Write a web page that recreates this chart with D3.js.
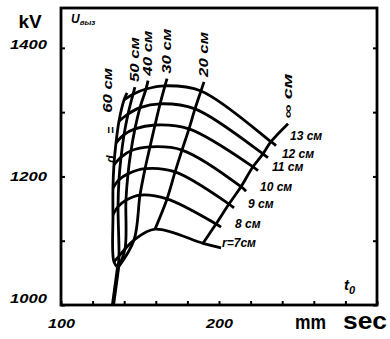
<!DOCTYPE html>
<html>
<script src="https://d3js.org/d3.v7.min.js"></script>
<style>
    body { margin: 0; background: #fff; }
    svg { font-family: 'Liberation Sans', Arial, sans-serif; }
    .lbl { font-weight: bold; font-style: italic; }
</style>
<body>
<svg width="390" height="339"></svg>
<script>
    // arcs of constant radius r (cm)
    const radii = [7, 8, 9, 10, 11, 12, 13];
    const radiusLabels = ['r=7см', '8 см', '9 см', '10 см', '11 см', '12 см', '13 см'];
    // steep curves of constant distance, left to right
    const distLabels = ['60 см', '50 см', '40 см', '30 см', '20 см', '∞ см'];

    // crossing points: rows = radius 7..13, columns = distance 60,50,40,30,20,inf
    const tGrid = [
        [133.5, 136.7, 140.5, 146.2, 159.5, 189.9],
        [132.9, 136.1, 141.1, 150.0, 167.1, 198.1],
        [132.9, 136.7, 142.4, 153.2, 172.2, 206.3],
        [133.5, 138.0, 144.3, 156.3, 176.6, 213.9],
        [134.8, 139.9, 146.8, 159.5, 181.0, 221.5],
        [136.7, 142.4, 150.0, 162.7, 184.8, 227.8],
        [139.9, 145.6, 153.8, 165.8, 188.6, 232.9]
    ];
    const uGrid = [
        [1067, 1076, 1087, 1101, 1118, 1096],
        [1140, 1153, 1163, 1171, 1165, 1126],
        [1182, 1195, 1204, 1212, 1207, 1157],
        [1218, 1230, 1240, 1246, 1241, 1184],
        [1252, 1265, 1274, 1280, 1274, 1215],
        [1286, 1297, 1307, 1313, 1305, 1235],
        [1319, 1328, 1336, 1341, 1333, 1254]
    ];
    // short tails of the arcs past the right curve
    const tailT = [201.3, 201.3, 209.5, 217.1, 224.7, 231.0, 236.1];
    const tailU = [1089, 1121, 1151, 1177, 1209, 1229, 1248];
    // upper ends of the distance curves
    const topT = [141.8, 146.8, 155.1, 167.1, 190.5, 243.7];
    const topU = [1330, 1339, 1349, 1352, 1347, 1282];
    // where the curves gather, and the stem down to the axis
    const stemT = [136.1, 132.9];
    const stemU = [1058, 1000];

    const xTicks = [100, 120, 140, 160, 180, 200, 220, 240, 260, 280, 300];
    const xLabels = [100, 200];
    const yTicks = [1000, 1100, 1200, 1300, 1400];
    const yLabels = [1000, 1200, 1400];

    const svg = d3.select('svg');
    const x = d3.scaleLinear().domain([100, 300]).range([61, 377]);
    const y = d3.scaleLinear().domain([1000, 1462]).range([305, 8]);

    const line = d3.line()
        .x(d => x(d[0]))
        .y(d => y(d[1]))
        .curve(d3.curveCatmullRom.alpha(0.5));

    // constant-r arcs
    radii.forEach((r, i) => {
        const pts = tGrid[i].map((t, j) => [t, uGrid[i][j]]);
        pts.push([tailT[i], tailU[i]]);
        svg.append('path')
            .attr('d', line(pts))
            .attr('fill', 'none')
            .attr('stroke', '#000')
            .attr('stroke-width', 2.8);
        svg.append('text')
            .attr('class', 'lbl')
            .attr('x', x(tGrid[i][5]) + 19)
            .attr('y', y(uGrid[i][5]) + (r == 13 ? -2 : 4))
            .attr('font-size', 12)
            .text(radiusLabels[i]);
    });

    // constant-distance curves
    distLabels.forEach((lab, j) => {
        const pts = [[topT[j], topU[j]]];
        for (let i = radii.length - 1; i >= 0; i--) pts.push([tGrid[i][j], uGrid[i][j]]);
        if (j < 4) pts.push([stemT[0], stemU[0]]);
        svg.append('path')
            .attr('d', line(pts))
            .attr('fill', 'none')
            .attr('stroke', '#000')
            .attr('stroke-width', 2.8);

        const lx = j == 0 ? x(topT[j]) - 15 : x(topT[j]) + 4;
        const ly = j == 0 ? y(topU[j]) + 20 : y(topU[j]) - 5;
        svg.append('text')
            .attr('class', 'lbl')
            .attr('transform', 'translate(' + lx + ',' + ly + ') rotate(-90)')
            .attr('font-size', 12)
            .attr('textLength', 45)
            .attr('lengthAdjust', 'spacingAndGlyphs')
            .text(lab);
        if (j == 0) {
            svg.append('text')
                .attr('class', 'lbl')
                .attr('transform', 'translate(' + (lx + 3) + ',' + (ly + 50) + ') rotate(-90)')
                .attr('font-size', 12)
                .attr('textLength', 36)
                .attr('lengthAdjust', 'spacing')
                .text('d =');
        }
    });

    // stem
    svg.append('path')
        .attr('d', d3.line().x(d => x(d[0])).y(d => y(d[1]))(stemT.map((t, i) => [t, stemU[i]])))
        .attr('fill', 'none')
        .attr('stroke', '#000')
        .attr('stroke-width', 4);

    // frame
    svg.append('rect')
        .attr('x', x.range()[0]).attr('y', y.range()[1])
        .attr('width', x.range()[1] - x.range()[0])
        .attr('height', y.range()[0] - y.range()[1])
        .attr('fill', 'none')
        .attr('stroke', '#000')
        .attr('stroke-width', 2.8);

    // axes
    const gl = svg.append('g').attr('transform', 'translate(61,0)')
        .call(d3.axisLeft(y).tickValues(yTicks).tickSizeInner(-4).tickSizeOuter(0).tickPadding(14)
            .tickFormat(d => yLabels.includes(d) ? d : ''));
    const gr = svg.append('g').attr('transform', 'translate(377,0)')
        .call(d3.axisRight(y).tickValues(yTicks).tickSizeInner(-4).tickSizeOuter(0).tickFormat(''));
    const gb = svg.append('g').attr('transform', 'translate(0,305)')
        .call(d3.axisBottom(x).tickValues(xTicks).tickSizeInner(-4).tickSizeOuter(0).tickPadding(14)
            .tickFormat(d => xLabels.includes(d) ? d : ''));
    [gl, gr, gb].forEach(g => {
        g.select('.domain').remove();
        g.selectAll('line').attr('stroke-width', 2);
        g.attr('font-family', null).attr('font-size', 13);
        g.selectAll('text').attr('class', 'lbl').attr('fill', '#000');
    });
    gl.selectAll('text')
        .attr('textLength', d => yLabels.includes(d) ? 37 : null)
        .attr('lengthAdjust', 'spacingAndGlyphs')
        .attr('y', d => d == 1000 ? -7 : (d == 1400 ? -4 : 0));
    gb.selectAll('text')
        .attr('textLength', d => xLabels.includes(d) ? 27 : null)
        .attr('lengthAdjust', 'spacingAndGlyphs');

    // axis titles
    svg.append('text').attr('x', 30).attr('y', 28).attr('text-anchor', 'middle')
        .attr('font-size', 19).attr('font-weight', 'bold').text('kV');
    const ut = svg.append('text').attr('class', 'lbl').attr('x', 71).attr('y', 23).attr('font-size', 12);
    ut.append('tspan').text('U');
    ut.append('tspan').attr('font-size', 8).attr('dy', 2).text('выз');
    const tt = svg.append('text').attr('class', 'lbl').attr('x', 344).attr('y', 290).attr('font-size', 15);
    tt.append('tspan').text('t');
    tt.append('tspan').attr('font-size', 11).attr('dy', 4).text('0');
    svg.append('text').attr('x', 295).attr('y', 329).attr('font-size', 20).attr('font-weight', 'bold')
        .attr('textLength', 31).attr('lengthAdjust', 'spacingAndGlyphs').text('mm');
    svg.append('text').attr('x', 343).attr('y', 329).attr('font-size', 24).attr('font-weight', 'bold')
        .attr('textLength', 44).attr('lengthAdjust', 'spacingAndGlyphs').text('sec');
</script>
</body>
</html>
